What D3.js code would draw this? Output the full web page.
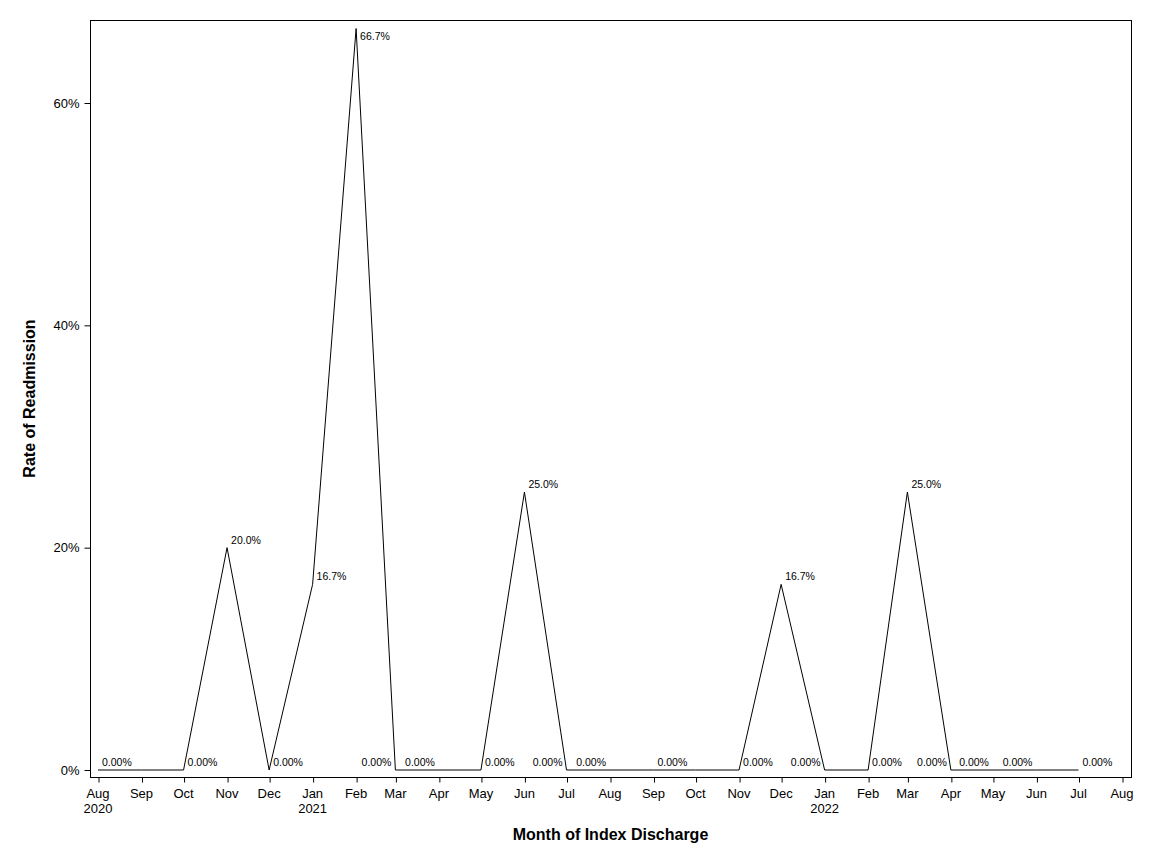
<!DOCTYPE html>
<meta charset="utf-8">
<script src="https://d3js.org/d3.v7.min.js"></script>
<style>
  body { margin: 0; background: #fff; }
  text { font-family: "Liberation Sans", Arial, sans-serif; fill: #000; }
</style>
<div id="chart"></div>
<script>
  // monthly readmission rate (%), first of each month
  const months = ["2020-08", "2020-09", "2020-10", "2020-11", "2020-12",
                  "2021-01", "2021-02", "2021-03", "2021-04", "2021-05", "2021-06",
                  "2021-07", "2021-08", "2021-09", "2021-10", "2021-11", "2021-12",
                  "2022-01", "2022-02", "2022-03", "2022-04", "2022-05", "2022-06", "2022-07"];
  const rates = [0, 0, 0, 20.0, 0,
                 16.7, 66.7, 0, 0, 0, 25.0,
                 0, 0, 0, 0, 0, 16.7,
                 0, 0, 25.0, 0, 0, 0, 0];
  // where each data label sits relative to its point
  const labelSide = ["R", "none", "R", "R", "R",
                     "R", "RB", "L", "L", "R", "R",
                     "L", "L", "R", "none", "R", "R",
                     "L", "R", "R", "L", "L", "L", "R"];
  const yTicks = [0, 20, 40, 60];

  const parse = d3.timeParse("%Y-%m");
  const data = months.map((m, i) => ({date: parse(m), rate: rates[i], side: labelSide[i]}));

  const W = 1152, H = 864;
  const frame = {left: 90, top: 20, right: 1131, bottom: 777};

  const svg = d3.select("#chart").append("svg")
      .attr("width", W).attr("height", H);

  const x = d3.scaleTime()
      .domain([parse("2020-08"), parse("2022-08")])
      .range([98, 1122]);
  const y = d3.scaleLinear()
      .domain([0, 60])
      .range([770, 103]);

  // frame
  svg.append("rect")
      .attr("x", frame.left + 0.5).attr("y", frame.top + 0.5)
      .attr("width", frame.right - frame.left).attr("height", frame.bottom - frame.top)
      .attr("fill", "none").attr("stroke", "#000");

  // x axis
  const xAxis = d3.axisBottom(x)
      .ticks(d3.timeMonth.every(1))
      .tickSize(5)
      .tickFormat("");
  const gx = svg.append("g")
      .attr("transform", `translate(0.5,${frame.bottom + 0.5})`)
      .call(xAxis);
  gx.select(".domain").remove();
  gx.selectAll(".tick line").attr("stroke", "#000");

  const xTickDates = d3.timeMonth.range(parse("2020-08"), d3.timeMonth.offset(parse("2022-08"), 1));
  const xl = svg.append("g").attr("font-size", 13).attr("text-anchor", "middle");
  xl.selectAll("text.m").data(xTickDates).join("text")
      .attr("class", "m")
      .attr("x", d => x(d)).attr("y", 798)
      .text(d => d3.timeFormat("%b")(d));
  xl.selectAll("text.yr").data(xTickDates.filter((d, i) => i === 0 || d.getMonth() === 0)).join("text")
      .attr("class", "yr")
      .attr("x", d => x(d)).attr("y", 813)
      .text(d => d3.timeFormat("%Y")(d));

  // y axis
  const yAxis = d3.axisLeft(y)
      .tickValues(yTicks)
      .tickSize(6)
      .tickPadding(5)
      .tickFormat(d => d + "%");
  const gy = svg.append("g")
      .attr("transform", `translate(${frame.left + 0.5},0)`)
      .call(yAxis);
  gy.select(".domain").remove();
  gy.selectAll(".tick line").attr("stroke", "#000");
  gy.selectAll(".tick text")
      .attr("font-family", "Liberation Sans, Arial, sans-serif")
      .attr("font-size", 13).attr("fill", "#000");

  // series line
  const line = d3.line()
      .x(d => x(d.date))
      .y(d => y(d.rate));
  svg.append("path")
      .datum(data)
      .attr("fill", "none")
      .attr("stroke", "#000")
      .attr("stroke-width", 1)
      .attr("d", line);

  // data labels
  const fmt = v => v === 0 ? "0.00%" : d3.format(".1f")(v) + "%";
  svg.append("g").attr("font-size", 10.5)
    .selectAll("text").data(data.filter(d => d.side !== "none")).join("text")
      .attr("x", d => x(d.date) + (d.side === "L" ? -4 : 4))
      .attr("y", d => y(d.rate) + (d.side === "RB" ? 11 : -4))
      .attr("text-anchor", d => d.side === "L" ? "end" : "start")
      .text(d => fmt(d.rate));

  // axis titles
  svg.append("text")
      .attr("x", (frame.left + frame.right) / 2).attr("y", 840)
      .attr("text-anchor", "middle")
      .attr("font-size", 16).attr("font-weight", "bold")
      .text("Month of Index Discharge");
  svg.append("text")
      .attr("transform", `translate(35,${(frame.top + frame.bottom) / 2}) rotate(-90)`)
      .attr("text-anchor", "middle")
      .attr("font-size", 16).attr("font-weight", "bold")
      .text("Rate of Readmission");
</script>
